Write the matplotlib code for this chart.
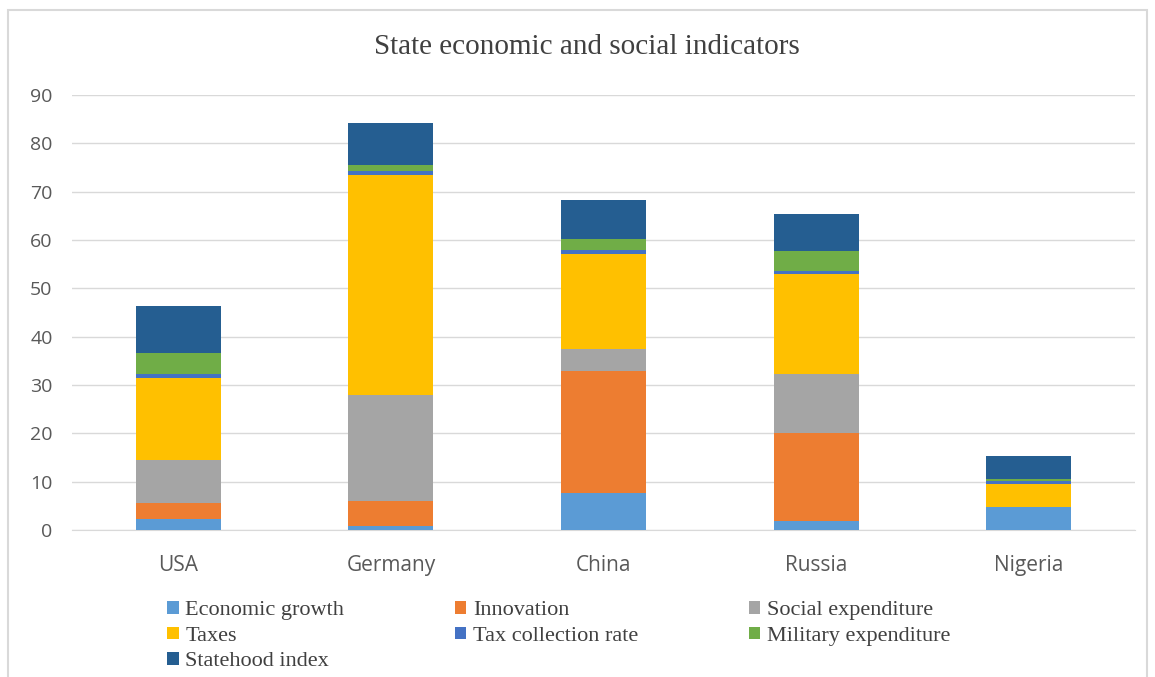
import matplotlib.pyplot as plt
from matplotlib.patches import Rectangle
import numpy as np

countries = ['USA', 'Germany', 'China', 'Russia', 'Nigeria']
series_names = ['Economic growth', 'Innovation', 'Social expenditure', 'Taxes',
                'Tax collection rate', 'Military expenditure', 'Statehood index']
economic_growth = [2.2, 0.9, 7.6, 1.9, 4.8]
innovation = [3.3, 5.1, 25.2, 18.1, 0.0]
social_expenditure = [9.0, 22.0, 4.7, 12.3, 0.0]
taxes = [17.0, 45.4, 19.7, 20.7, 4.7]
tax_collection_rate = [0.8, 0.8, 0.8, 0.5, 0.6]
military_expenditure = [4.3, 1.4, 2.2, 4.2, 0.4]
statehood_index = [9.8, 8.7, 8.1, 7.7, 4.8]
colors = ['#5b9bd5', '#ed7d31', '#a5a5a5', '#ffc000', '#4472c4', '#70ad47', '#255e91']

all_series = [economic_growth, innovation, social_expenditure, taxes,
              tax_collection_rate, military_expenditure, statehood_index]

fig = plt.figure(figsize=(11.55, 6.77), dpi=100)
ax = fig.add_axes([0.0623, 0.2171, 0.9204, 0.6426])

x = np.arange(len(countries))
bottom = np.zeros(len(countries))
bars = []
for name, vals, c in zip(series_names, all_series, colors):
    b = ax.bar(x, vals, width=0.4, bottom=bottom, color=c, label=name, zorder=3)
    bars.append(b)
    bottom += np.array(vals)

ax.set_xlim(-0.5, 4.5)
ax.set_ylim(0, 90)
ax.set_yticks(range(0, 91, 10))
ax.set_xticks(x)
ax.set_xticklabels(countries)
ax.grid(axis='y', color='#d9d9d9', linewidth=1, zorder=0)
for s in ['top', 'right', 'left']:
    ax.spines[s].set_visible(False)
ax.spines['bottom'].set_color('#d9d9d9')
ax.tick_params(axis='x', length=0, labelsize=15, colors='#595959', pad=18)
ax.tick_params(axis='y', length=0, labelsize=14, colors='#595959', pad=14)
for lab in ax.get_xticklabels() + ax.get_yticklabels():
    lab.set_family('Open Sans')

fig.text(0.508, 0.931, 'State economic and social indicators', ha='center', va='center',
         fontsize=21, family='Liberation Serif', color='#404040')

# row-major legend order for 3 columns
order = [0, 3, 6, 1, 4, 2, 5]
leg = fig.legend([bars[i] for i in order], [series_names[i] for i in order],
                 loc='upper left', bbox_to_anchor=(0.145, 0.112), ncol=3, frameon=False,
                 prop={'family': 'Liberation Serif', 'size': 16}, handlelength=0.5,
                 handleheight=0.5, handletextpad=0.3, columnspacing=5.0,
                 labelspacing=0.28, borderaxespad=0, borderpad=0)
for t in leg.get_texts():
    t.set_color('#404040')

fig.patches.append(Rectangle((0.007, -0.01), 0.986, 0.995, transform=fig.transFigure,
                             fill=False, edgecolor='#d9d9d9', linewidth=1.5))

fig.savefig('out.png', dpi=100)
